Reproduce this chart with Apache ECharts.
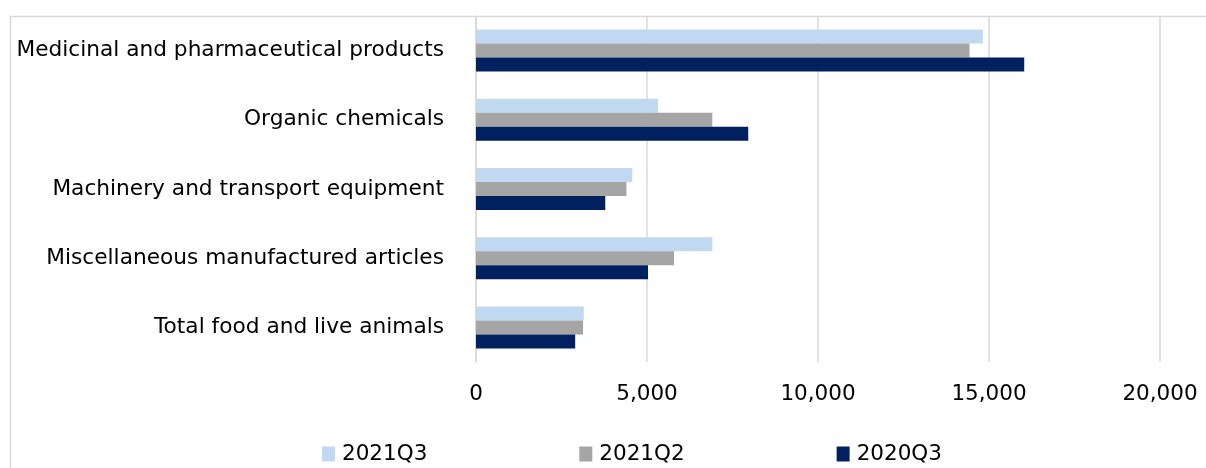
<!DOCTYPE html>
<html>
<head>
<meta charset="utf-8">
<script src="https://cdn.jsdelivr.net/npm/echarts@6/dist/echarts.min.js"></script>
<style>
html,body{margin:0;padding:0;background:#fff;}
#chart{width:1206px;height:468px;}
</style>
</head>
<body>
<div id="chart"></div>
<script>
const categories = [
  "Medicinal and pharmaceutical products",
  "Organic chemicals",
  "Machinery and transport equipment",
  "Miscellaneous manufactured articles",
  "Total food and live animals"
];
const seriesNames = ["2021Q3", "2021Q2", "2020Q3"];
const values2021Q3 = [14820, 5320, 4570, 6910, 3150];
const values2021Q2 = [14430, 6910, 4400, 5790, 3130];
const values2020Q3 = [16030, 7960, 3780, 5030, 2900];
const xTicks = [0, 5000, 10000, 15000, 20000];
const colors = ["#c0d8f0", "#a5a5a5", "#002060"];
const FONT = "DejaVu Sans";

const chart = echarts.init(document.getElementById('chart'), null, {renderer: 'canvas'});
const dataList = [values2021Q3, values2021Q2, values2020Q3];
chart.setOption({
  animation: false,
  textStyle: {fontFamily: FONT},
  graphic: [{
    type: 'polyline', z: -1, silent: true,
    shape: {points: [[10.5, 480], [10.5, 16.5], [1220, 16.5]]},
    style: {fill: null, stroke: '#d9d9d9', lineWidth: 1.5}
  }],
  grid: {left: 476, right: 46, top: 16, bottom: 106, containLabel: false},
  legend: {
    top: 438, left: 317,
    itemWidth: 13, itemHeight: 15, itemGap: 152,
    icon: 'rect',
    textStyle: {fontFamily: FONT, fontSize: 21.5, color: '#000', padding: [0, 0, 0, 2]},
    data: seriesNames
  },
  xAxis: {
    type: 'value', min: xTicks[0], max: xTicks[xTicks.length - 1], interval: xTicks[1] - xTicks[0],
    axisLine: {show: false}, axisTick: {show: false},
    splitLine: {show: true, lineStyle: {color: '#d9d9d9', width: 1.5}},
    axisLabel: {
      fontFamily: FONT, fontSize: 21.5, color: '#000', margin: 21,
      formatter: v => v.toLocaleString('en-US')
    }
  },
  yAxis: {
    type: 'category', inverse: true, data: categories,
    axisLine: {show: true, lineStyle: {color: '#d9d9d9', width: 1.5}},
    axisTick: {show: false},
    axisLabel: {fontFamily: FONT, fontSize: 21.7, color: '#000', margin: 32}
  },
  series: seriesNames.map((n, i) => ({
    name: n, type: 'bar', data: dataList[i],
    barWidth: 14, barGap: '0%',
    itemStyle: {color: colors[i]}
  }))
});
</script>
</body>
</html>
